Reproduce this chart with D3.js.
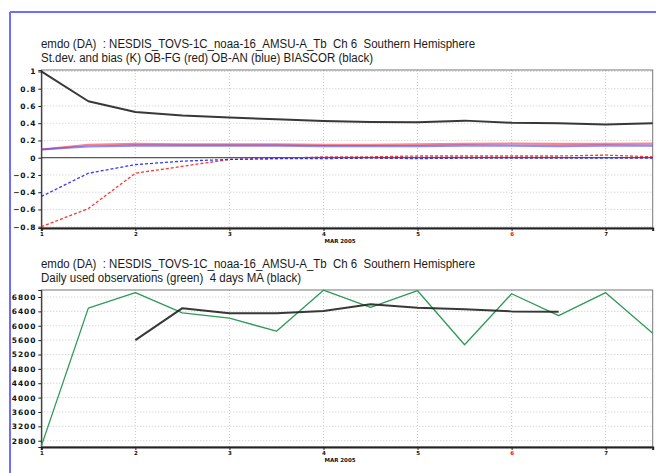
<!DOCTYPE html>
<html>
<head>
<meta charset="utf-8">
<script src="https://cdn.jsdelivr.net/npm/d3@7"></script>
<style>
  body { margin: 0; background: #fff; }
  svg { display: block; }
  .title { font-family: "Liberation Sans", Arial, sans-serif; font-size: 12px; fill: #1a1a1a; white-space: pre; }
  .tick text { font-family: "DejaVu Sans", sans-serif; font-weight: bold; fill: #111; }
  .grid line { stroke: #c8c8c8; stroke-dasharray: 1,2; }
</style>
</head>
<body>
<svg width="656" height="473"></svg>
<script>

var svg = d3.select("svg"),
    width = +svg.attr("width"),
    height = +svg.attr("height");

// half-day steps, MAR 2005
var days = [1, 1.5, 2, 2.5, 3, 3.5, 4, 4.5, 5, 5.5, 6, 6.5, 7, 7.5];
var dayTicks = [1, 2, 3, 4, 5, 6, 7];

// top panel: st.dev. and bias (K)
var biascor = [1.0, 0.655, 0.53, 0.49, 0.465, 0.445, 0.425, 0.415, 0.41, 0.43, 0.405, 0.40, 0.385, 0.40];
var fgStd   = [0.095, 0.15, 0.16, 0.155, 0.155, 0.155, 0.15, 0.15, 0.155, 0.16, 0.165, 0.16, 0.16, 0.165];
var anStd   = [0.095, 0.13, 0.14, 0.14, 0.14, 0.14, 0.135, 0.135, 0.135, 0.14, 0.14, 0.135, 0.14, 0.14];
var fgBias  = [-0.80, -0.59, -0.18, -0.10, -0.02, -0.01, 0.01, 0.01, 0.02, 0.02, 0.02, 0.02, 0.03, 0.01];
var anBias  = [-0.45, -0.18, -0.08, -0.04, -0.02, -0.01, -0.01, -0.005, -0.01, -0.005, -0.005, -0.005, -0.005, -0.005];
var statTicks = [-0.8, -0.6, -0.4, -0.2, 0, 0.2, 0.4, 0.6, 0.8, 1];

// bottom panel: used observations
var usedObs = [2650, 6490, 6920, 6360, 6210, 5850, 6990, 6510, 6975, 5470, 6890, 6280, 6920, 5790];
var obsMA   = [null, null, 5600, 6490, 6345, 6345, 6410, 6600, 6500, 6460, 6400, 6390, null, null];
var obsTicks = [2800, 3200, 3600, 4000, 4400, 4800, 5200, 5600, 6000, 6400, 6800];

var titleTop = "emdo (DA)  : NESDIS_TOVS-1C_noaa-16_AMSU-A_Tb  Ch 6  Southern Hemisphere";
var subTop = "St.dev. and bias (K) OB-FG (red) OB-AN (blue) BIASCOR (black)";
var subBottom = "Daily used observations (green)  4 days MA (black)";

// page frame (blue)
svg.append("line").attr("x1", 10).attr("x2", 10).attr("y1", 12).attr("y2", height)
    .attr("stroke", "#6f6fff").attr("stroke-width", 2);
svg.append("line").attr("x1", 10).attr("x2", width).attr("y1", 12).attr("y2", 12)
    .attr("stroke", "#6f6fff").attr("stroke-width", 2);

var x = d3.scaleLinear().domain([1, 7.5]).range([41.3, 652.7]);

function panel(top, bottom, yDomain, yTicks, fmt, t1, t2, t2len) {
    var y = d3.scaleLinear().domain(yDomain).range([bottom, top]);
    var g = svg.append("g");

    g.append("text").attr("class", "title").attr("x", 41).attr("y", top - 22)
        .attr("textLength", 434).attr("lengthAdjust", "spacingAndGlyphs").text(t1);
    g.append("text").attr("class", "title").attr("x", 41).attr("y", top - 8)
        .attr("textLength", t2len).attr("lengthAdjust", "spacingAndGlyphs").text(t2);

    // grid
    var grid = g.append("g").attr("class", "grid");
    grid.selectAll(".h").data(yTicks).enter().append("line")
        .attr("x1", x(1)).attr("x2", x(7.5))
        .attr("y1", function(d){ return y(d); }).attr("y2", function(d){ return y(d); });
    grid.selectAll(".v").data(dayTicks.slice(1)).enter().append("line")
        .attr("x1", function(d){ return x(d); }).attr("x2", function(d){ return x(d); })
        .attr("y1", top).attr("y2", bottom)
        .style("stroke", function(d){ return d === 6 ? "#f0b0b0" : null; });

    // frame
    g.append("rect").attr("x", x(1)).attr("y", top).attr("width", x(7.5) - x(1)).attr("height", bottom - top)
        .attr("fill", "none").attr("stroke", "#777").attr("stroke-width", 1);

    var ya = g.append("g").attr("transform", "translate(" + x(1) + ",0)")
        .call(d3.axisLeft(y).tickValues(yTicks).tickSize(3).tickPadding(2).tickFormat(fmt));
    ya.select(".domain").attr("stroke", "#222");
    ya.selectAll(".tick line").attr("stroke", "#222");
    ya.selectAll(".tick text").style("font-size", "7.5px").style("letter-spacing", "0.9px");

    var xa = g.append("g").attr("transform", "translate(0," + bottom + ")")
        .call(d3.axisBottom(x).tickValues(dayTicks).tickSize(3).tickPadding(1).tickFormat(d3.format("d")));
    xa.select(".domain").attr("stroke", "#222").attr("stroke-width", 2);
    xa.selectAll(".tick line").attr("stroke", "#222");
    xa.selectAll(".tick text").style("font-size", "5.5px")
        .style("fill", function(d){ return d === 6 ? "#ff0000" : "#111"; });

    g.append("text").attr("x", 340).attr("y", bottom + 15).attr("text-anchor", "middle")
        .style("font-family", "DejaVu Sans, sans-serif").style("font-weight", "bold")
        .style("font-size", "5.5px").attr("fill", "#111").text("MAR 2005");

    return { g: g, y: y };
}

function series(p, vals, color, w, dash, op) {
    var line = d3.line()
        .defined(function(d){ return d[1] !== null; })
        .x(function(d){ return x(d[0]); })
        .y(function(d){ return p.y(d[1]); });
    p.g.append("path")
        .datum(days.map(function(d, i){ return [d, vals[i]]; }))
        .attr("d", line)
        .attr("fill", "none")
        .attr("stroke", color)
        .attr("stroke-width", w)
        .attr("stroke-dasharray", dash)
        .attr("stroke-opacity", op)
        .attr("stroke-linejoin", "round");
}

var fmtStat = function(d){ return d3.format("")(+d.toFixed(1)); };
var p1 = panel(70, 228, [-0.815, 1.017], statTicks, fmtStat, titleTop, subTop, 332);

// zero line
p1.g.append("line").attr("x1", x(1)).attr("x2", x(7.5)).attr("y1", p1.y(0)).attr("y2", p1.y(0))
    .attr("stroke", "#333").attr("stroke-width", 1);

series(p1, biascor, "#222", 2, null, 0.9);
series(p1, fgStd, "#ff3030", 2.2, null, 0.6);
series(p1, anStd, "#3030ff", 2.2, null, 0.55);
series(p1, fgBias, "#ff2020", 1.3, "3,2", 0.9);
series(p1, anBias, "#2020ff", 1.3, "3,2", 0.9);

var p2 = panel(290, 447, [2625, 6995], obsTicks, d3.format("d"), titleTop, subBottom, 260);
series(p2, usedObs, "#2e9a55", 1.3, null, 1);
series(p2, obsMA, "#222", 2, null, 0.9);

</script>
</body>
</html>
